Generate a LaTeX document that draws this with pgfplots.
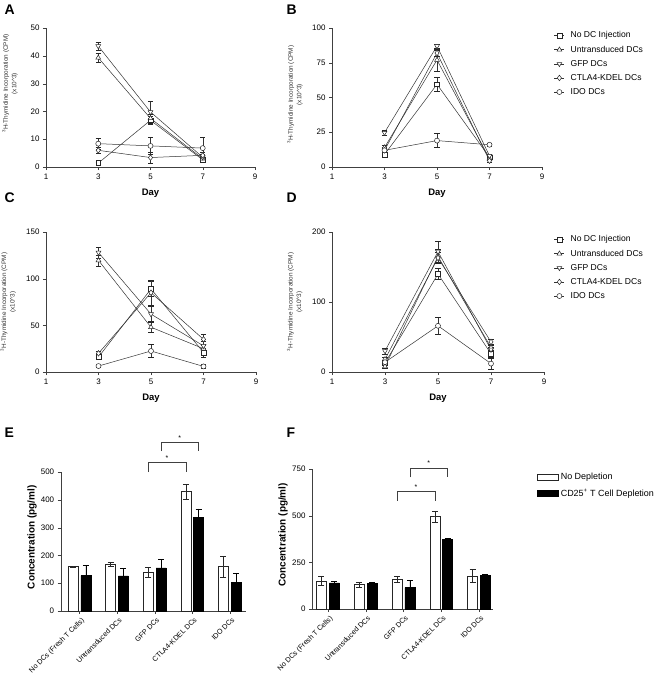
\documentclass[border=0pt]{standalone}
\usepackage{pgfplots}
\pgfplotsset{compat=1.18}
\usepackage{fontspec}
\setmainfont{Liberation Sans}

\pgfplotsset{
  base/.style={scale only axis, axis lines=left, axis line style={-,black!75},
    tick align=outside, major tick length=3bp, tick style={black!75},
    tick label style={font=\fontsize{8}{9}\selectfont},
    /pgf/number format/assume math mode=true, ymin=0, clip=false},
  linepanel/.style={base, xmin=1, xmax=9, xtick={1,3,5,7,9},
    xlabel={\textbf{Day}},
    xlabel style={font=\fontsize{9.5}{10}\selectfont, at={(axis description cs:0.5,-0.19)}, anchor=center},
    ylabel={\textsuperscript{3}H-Thymidine Incorporation (CPM)\\(x10\textasciicircum3)},
    ylabel style={font=\fontsize{6.4}{8.5}\selectfont, align=center, anchor=center, black!80},
    legend image code/.code={\draw[mark repeat=2,mark phase=2,#1] plot coordinates {(0bp,0bp)(5bp,0bp)(10bp,0bp)}; \path (14bp,0bp);},
    legend style={draw=none, fill=none, font=\fontsize{8.6}{9}\selectfont, anchor=north west,
      row sep=2.6bp, inner sep=0pt}, legend cell align=left},
  ln/.style={black!80, line width=0.5pt, mark size=2.8,
    error bars/y dir=both, error bars/y explicit,
    error bars/error mark options={rotate=90, mark size=2.6, black!85}},
  s1/.style={ln, mark=square*, mark options={solid, fill=white, draw=black!85, scale=0.85}},
  s2/.style={ln, mark=triangle*, mark options={solid, fill=white, draw=black!85}},
  s3/.style={ln, mark=triangle*, mark options={solid, fill=white, draw=black!85, rotate=180}},
  s4/.style={ln, mark=diamond*, mark options={solid, fill=white, draw=black!85}},
  s5/.style={ln, mark=*, mark options={solid, fill=white, draw=black!85, scale=0.9}},
  barpanel/.style={base, xtick={0,1,2,3,4},
    xticklabels={No DCs (Fresh T Cells),Untransduced DCs,GFP DCs,CTLA4-KDEL DCs,IDO DCs},
    xticklabel style={rotate=45, anchor=north east, font=\fontsize{7.2}{8}\selectfont, inner sep=1bp, yshift=-2bp},
    ylabel={\textbf{Concentration (pg/ml)}},
    ylabel style={font=\fontsize{10}{11}\selectfont, anchor=center}},
  nodep/.style={ybar, bar width=0.265, bar shift=0, fill=white, draw=black!85, line width=0.6pt,
    error bars/y dir=both, error bars/y explicit,
    error bars/error mark options={rotate=90, mark size=3, black!85}},
  dep/.style={ybar, bar width=0.265, bar shift=0, fill=black, draw=black, line width=0.6pt,
    error bars/y dir=both, error bars/y explicit,
    error bars/error mark options={rotate=90, mark size=3, black}},
}

\begin{document}
\begin{tikzpicture}
\useasboundingbox (0,0) rectangle (666bp,-675bp);

% panel letters
\node[anchor=west, font=\fontsize{14}{14}\selectfont\bfseries] at (1bp,-10bp) {A};
\node[anchor=west, font=\fontsize{14}{14}\selectfont\bfseries] at (283bp,-10bp) {B};
\node[anchor=west, font=\fontsize{14}{14}\selectfont\bfseries] at (1bp,-198bp) {C};
\node[anchor=west, font=\fontsize{14}{14}\selectfont\bfseries] at (283bp,-198bp) {D};
\node[anchor=west, font=\fontsize{14}{14}\selectfont\bfseries] at (1bp,-433bp) {E};
\node[anchor=west, font=\fontsize{14}{14}\selectfont\bfseries] at (283bp,-433bp) {F};

% A
\begin{axis}[linepanel, at={(46bp,-167bp)}, anchor=south west, width=209bp, height=139bp,
  ymax=50, ytick={0,10,...,50},
  ylabel style={at={(axis description cs:-0.172,0.6)}}]
\addplot[s1] coordinates {(3,1.4)+-(0,0.5) (5,16.8)+-(0,1.5) (7,2.6)+-(0,0.8)};
\addplot[s2] coordinates {(3,39.3)+-(0,1.5) (5,17.5)+-(0,1.5) (7,3)+-(0,0.8)};
\addplot[s3] coordinates {(3,43.5)+-(0,1.5) (5,19.8)+-(0,4) (7,3.5)+-(0,1)};
\addplot[s4] coordinates {(3,6)+-(0,1) (5,3.4)+-(0,2) (7,4.2)+-(0,1)};
\addplot[s5] coordinates {(3,8.4)+-(0,2) (5,7.6)+-(0,3) (7,6.8)+-(0,3.8)};
\end{axis}

% B
\begin{axis}[linepanel, at={(332bp,-167bp)}, anchor=south west, width=210bp, height=139bp,
  ymax=100, ytick={0,25,...,100},
  ylabel style={at={(axis description cs:-0.176,0.52)}},
  legend style={at={(1.057,0.99)}}]
\addplot[s1] coordinates {(3,9)+-(0,1.5) (5,59.5)+-(0,5) (7,7)+-(0,1)};
\addplot[s2] coordinates {(3,14)+-(0,2) (5,77)+-(0,8) (7,6)+-(0,1)};
\addplot[s3] coordinates {(3,24.7)+-(0,2) (5,87)+-(0,1.5) (7,8)+-(0,1)};
\addplot[s4] coordinates {(3,12)+-(0,2) (5,82)+-(0,2) (7,4.5)+-(0,1)};
\addplot[s5] coordinates {(3,12)+-(0,2) (5,19)+-(0,5) (7,16)+-(0,1)};
\legend{No DC Injection,Untransduced DCs,GFP DCs,CTLA4-KDEL DCs,IDO DCs}
\end{axis}

% C
\begin{axis}[linepanel, at={(46bp,-372bp)}, anchor=south west, width=210bp, height=140bp,
  ymax=150, ytick={0,50,...,150},
  ylabel style={at={(axis description cs:-0.18,0.5)}}]
\addplot[s1] coordinates {(3,16)+-(0,2) (5,89)+-(0,8) (7,21)+-(0,5)};
\addplot[s2] coordinates {(3,119.6)+-(0,6) (5,48)+-(0,5) (7,25)+-(0,4)};
\addplot[s3] coordinates {(3,128)+-(0,6) (5,62)+-(0,8) (7,28)+-(0,5)};
\addplot[s4] coordinates {(3,20)+-(0,2) (5,85)+-(0,13) (7,35)+-(0,6)};
\addplot[s5] coordinates {(3,6.4)+-(0,1) (5,22.5)+-(0,7) (7,6)+-(0,2)};
\end{axis}

% D
\begin{axis}[linepanel, at={(332bp,-372bp)}, anchor=south west, width=212bp, height=140bp,
  ymax=200, ytick={0,100,200},
  ylabel style={at={(axis description cs:-0.176,0.5)}},
  legend style={at={(1.047,0.99)}}]
\addplot[s1] coordinates {(3,13)+-(0,3) (5,140)+-(0,8) (7,26)+-(0,5)};
\addplot[s2] coordinates {(3,8)+-(0,2) (5,165)+-(0,10) (7,35)+-(0,5)};
\addplot[s3] coordinates {(3,30)+-(0,4) (5,172)+-(0,15) (7,32)+-(0,4)};
\addplot[s4] coordinates {(3,18)+-(0,3) (5,163)+-(0,8) (7,43)+-(0,4)};
\addplot[s5] coordinates {(3,14)+-(0,3) (5,66)+-(0,12) (7,12)+-(0,8)};
\legend{No DC Injection,Untransduced DCs,GFP DCs,CTLA4-KDEL DCs,IDO DCs}
\end{axis}

% E
\begin{axis}[barpanel, at={(60.7bp,-611bp)}, anchor=south west, width=185.3bp, height=139bp,
  xmin=-0.5, xmax=4.43, ymax=500, ytick={0,100,...,500},
  ylabel style={at={(axis description cs:-0.155,0.53)}}]
\addplot[nodep] coordinates {(-0.17,160)+-(0,2) (0.83,167)+-(0,7) (1.83,138)+-(0,18) (2.83,430)+-(0,27) (3.83,160)+-(0,38)};
\addplot[dep] coordinates {(0.17,127)+-(0,36) (1.17,126)+-(0,27) (2.17,155)+-(0,30) (3.17,338)+-(0,30) (4.17,103)+-(0,32)};
\draw[black!75, line width=0.6pt] (axis cs:1.83,500) -- (axis cs:1.83,536) -- (axis cs:2.83,536) -- (axis cs:2.83,500);
\draw[black!75, line width=0.6pt] (axis cs:2.17,575) -- (axis cs:2.17,608) -- (axis cs:3.17,608) -- (axis cs:3.17,575);
\node[anchor=base, font=\fontsize{7}{8}\selectfont] at (axis cs:2.33,540) {*};
\node[anchor=base, font=\fontsize{7}{8}\selectfont] at (axis cs:2.67,615) {*};
\end{axis}

% F
\begin{axis}[barpanel, at={(312bp,-609bp)}, anchor=south west, width=181bp, height=140bp,
  xmin=-0.42, xmax=4.37, ymax=750, ytick={0,250,500,750},
  ylabel style={at={(axis description cs:-0.16,0.53)}},
  area legend,
  legend image code/.code={\draw[#1] (0bp,-3bp) rectangle (21bp,3bp);},
  legend style={draw=none, fill=none, font=\fontsize{9}{10}\selectfont, at={(1.243,0.985)}, anchor=north west, row sep=4bp, inner sep=0pt},
  legend cell align=left]
\addplot[nodep] coordinates {(-0.17,150)+-(0,25) (0.83,131)+-(0,15) (1.83,161)+-(0,15) (2.83,494)+-(0,28) (3.83,177)+-(0,35)};
\addplot[dep] coordinates {(0.17,140)+-(0,7) (1.17,136)+-(0,7) (2.17,115)+-(0,39) (3.17,374)+-(0,3) (4.17,182)+-(0,3)};
\draw[black!75, line width=0.6pt] (axis cs:1.83,580) -- (axis cs:1.83,632) -- (axis cs:2.83,632) -- (axis cs:2.83,580);
\draw[black!75, line width=0.6pt] (axis cs:2.17,705) -- (axis cs:2.17,754) -- (axis cs:3.17,754) -- (axis cs:3.17,705);
\node[anchor=base, font=\fontsize{7}{8}\selectfont] at (axis cs:2.33,639) {*};
\node[anchor=base, font=\fontsize{7}{8}\selectfont] at (axis cs:2.67,767) {*};
\legend{No Depletion,CD25\textsuperscript{+} T Cell Depletion}
\end{axis}
\end{tikzpicture}
\end{document}
